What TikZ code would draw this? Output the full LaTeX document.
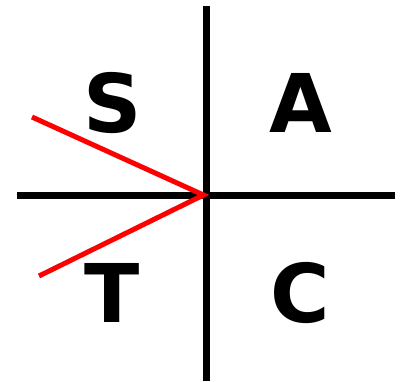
\documentclass[tikz,border=0pt]{standalone}
\usepackage{fontspec}
\setmainfont{DejaVu Sans}
\begin{document}
\begin{tikzpicture}[x=1pt,y=-1pt,
  axis/.style={line width=7pt,black},
  ray/.style={line width=5pt,red,line join=miter},
  letter/.style={anchor=base,inner sep=0pt,font=\fontsize{81}{81}\selectfont\bfseries}]
\useasboundingbox (0,0) rectangle (411,381);
\coordinate (top) at (206,6);
\coordinate (bot) at (206,381);
\coordinate (left) at (17,195);
\coordinate (right) at (395,195);
\coordinate (apex) at (203.5,195);
\coordinate (r1) at (32,117);
\coordinate (r2) at (39,276);
\draw[axis] (top) -- (bot);
\draw[axis] (left) -- (right);
\draw[ray] (r1) -- (apex) -- (r2);
\node[letter] (S) at (112.5,132) {S};
\node[letter] (A) at (301,132) {A};
\node[letter] (T) at (112,322) {T};
\node[letter] (C) at (300.5,322) {C};
\end{tikzpicture}
\end{document}
